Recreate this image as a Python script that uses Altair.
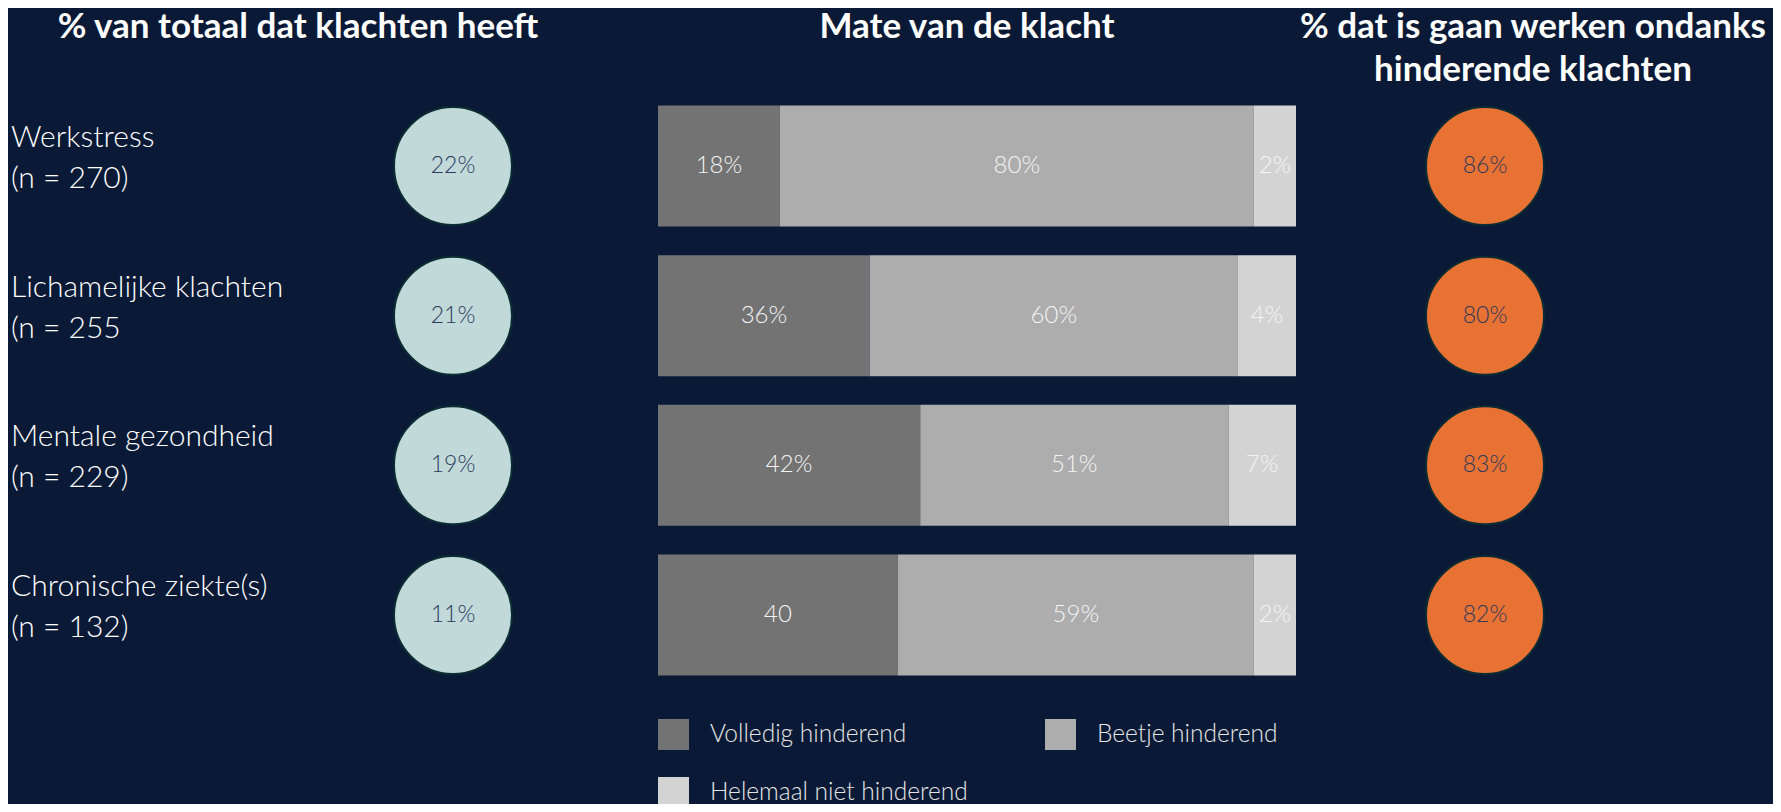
import altair as alt
import pandas as pd

# ---------------- data ----------------
categories = ["Werkstress", "Lichamelijke klachten", "Mentale gezondheid", "Chronische ziekte(s)"]
sample_sizes = ["(n = 270)", "(n = 255", "(n = 229)", "(n = 132)"]

pct_total_labels = ["22%", "21%", "19%", "11%"]
pct_work_labels = ["86%", "80%", "83%", "82%"]

levels = ["Volledig hinderend", "Beetje hinderend", "Helemaal  niet hinderend"]
level_colors = ["#737373", "#adadad", "#d3d3d3"]

# drawn segment widths (share of bar)
share_volledig = [19.1, 33.2, 41.1, 37.6]
share_beetje = [74.3, 57.7, 48.3, 55.8]
share_niet = [6.6, 9.1, 10.6, 6.6]

label_volledig = ["18%", "36%", "42%", "40"]
label_beetje = ["80%", "60%", "51%", "59%"]
label_niet = ["2%", "4%", "7%", "2%"]

title_left = "% van totaal dat klachten heeft"
title_mid = "Mate van de klacht"
title_right = "% dat is gaan werken ondanks\nhinderende klachten"

# ---------------- tables ----------------
BG = "#0a1a36"
FONT = "Lato"

rows = pd.DataFrame({
    "cat": categories,
    "label": [c + "\n" + n for c, n in zip(categories, sample_sizes)],
    "total": pct_total_labels,
    "work": pct_work_labels,
})

recs = []
for i, c in enumerate(categories):
    vals = [share_volledig[i], share_beetje[i], share_niet[i]]
    labs = [label_volledig[i], label_beetje[i], label_niet[i]]
    start = 0.0
    for j, lv in enumerate(levels):
        end = start + vals[j]
        recs.append({"cat": c, "level": lv, "order": j, "start": start,
                     "end": end, "mid": (start + end) / 2, "label": labs[j]})
        start = end
seg = pd.DataFrame(recs)

# ---------------- scales ----------------
yscale = alt.Scale(type="point", domain=categories, range=[158, 607], padding=0)
y_enc = alt.Y("cat:N", scale=yscale, axis=None)
xscale = alt.Scale(domain=[0, 100], range=[650, 1288], nice=False, zero=False)

base = alt.Chart(rows)

row_labels = base.mark_text(
    align="left", baseline="middle", fontSize=30, font=FONT, fontWeight=300,
    color="#ffffff", lineBreak="\n", lineHeight=41, dy=-28
).encode(x=alt.value(3), y=y_enc, text="label:N")

CIRCLE_SIZE = 13924

circ_left = base.mark_circle(
    size=CIRCLE_SIZE, opacity=1, color="#c1d9d9", stroke="#0c2c33", strokeWidth=2
).encode(x=alt.value(445), y=y_enc)

circ_left_txt = base.mark_text(
    fontSize=23, font=FONT, fontWeight=300, color="#2b3a5c", baseline="middle"
).encode(x=alt.value(445), y=y_enc, text="total:N")

circ_right = base.mark_circle(
    size=CIRCLE_SIZE, opacity=1, color="#e87234", stroke="#0c2c33", strokeWidth=2
).encode(x=alt.value(1477), y=y_enc)

circ_right_txt = base.mark_text(
    fontSize=23, font=FONT, fontWeight=300, color="#2b3a5c", baseline="middle"
).encode(x=alt.value(1477), y=y_enc, text="work:N")

bars = alt.Chart(seg).mark_bar(size=121).encode(
    x=alt.X("start:Q", scale=xscale, axis=None),
    x2="end:Q",
    y=y_enc,
    color=alt.Color(
        "level:N",
        scale=alt.Scale(domain=levels, range=level_colors),
        legend=alt.Legend(
            orient="none", legendX=650, legendY=711, direction="horizontal",
            columns=2, title=None, symbolType="square", symbolSize=961,
            symbolStrokeWidth=0, symbolOpacity=1, labelFont=FONT,
            labelFontSize=24.5, labelFontWeight=300, labelColor="#e6e6e6",
            labelLimit=500, labelOffset=21, columnPadding=70, rowPadding=27,
            padding=0, offset=0,
        ),
    ),
    order="order:Q",
)

bar_txt = alt.Chart(seg).mark_text(
    fontSize=24, font=FONT, fontWeight=300, color="#f4f4f4", baseline="middle"
).encode(x=alt.X("mid:Q", scale=xscale, axis=None), y=y_enc, text="label:N")

def title_layer(txt, x, y, size):
    return alt.Chart(pd.DataFrame({"t": [txt]})).mark_text(
        fontSize=size, font=FONT, fontWeight="bold", color="#ffffff",
        align="center", baseline="middle", lineBreak="\n", lineHeight=43
    ).encode(text="t:N", x=alt.value(x), y=alt.value(y))

t1 = title_layer(title_left, 290, 19, 35)
t2 = title_layer(title_mid, 959, 19, 35)
t3 = title_layer(title_right, 1525, 19, 35)

chart = alt.layer(
    t1, t2, t3, row_labels, circ_left, circ_left_txt, bars, bar_txt,
    circ_right, circ_right_txt
).properties(
    width=1765, height=796,
    autosize=alt.AutoSizeParams(type="none"),
    padding=0, background=BG,
).configure_view(stroke=None)

chart.save("out.html", embed_options={"renderer": "svg", "actions": False})
